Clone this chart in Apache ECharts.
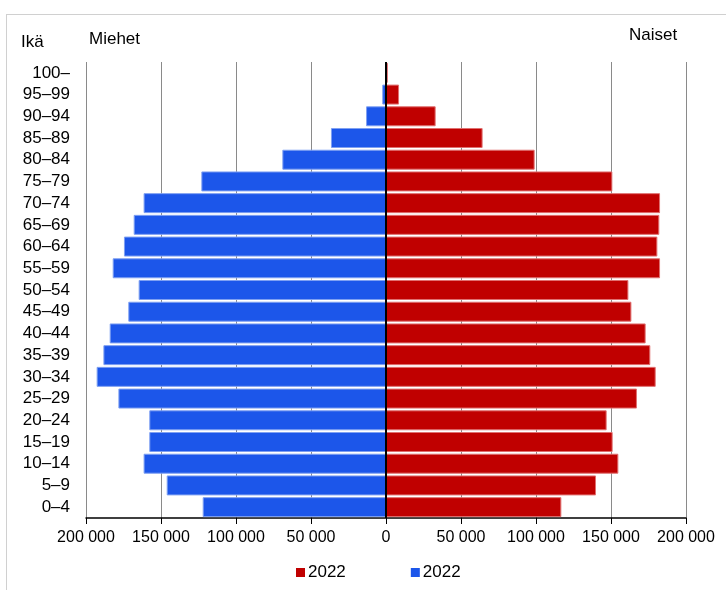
<!DOCTYPE html>
<html>
<head>
<meta charset="utf-8">
<script src="https://cdn.jsdelivr.net/npm/echarts@6/dist/echarts.min.js"></script>
<style>
html,body{margin:0;padding:0;background:#fff;}
#c{width:726px;height:590px;}
</style>
</head>
<body>
<div id="c"></div>
<script>
var ageGroups = ['0–4','5–9','10–14','15–19','20–24','25–29','30–34','35–39','40–44','45–49','50–54','55–59','60–64','65–69','70–74','75–79','80–84','85–89','90–94','95–99','100–'];
var men = [122200,146200,161600,157800,157800,178400,192900,188400,184200,171800,164900,182200,174700,168200,161600,123100,69100,36700,13300,2500,300];
var women = [116900,140000,154900,151100,147100,167300,179800,176200,173100,163600,161600,182700,180900,182200,182700,150900,99100,64400,33100,8700,1200];
var xTicks = [-200000,-150000,-100000,-50000,0,50000,100000,150000,200000];
var legendLabels = ['2022','2022'];

function fmt(v){
  var s = String(Math.abs(v));
  return s.replace(/\B(?=(\d{3})+(?!\d))/g, ' ');
}

var chart = echarts.init(document.getElementById('c'), null, {renderer:'canvas'});
var font = '"Liberation Sans", Arial, sans-serif';
chart.setOption({
  animation:false,
  textStyle:{fontFamily:font},
  grid:{left:86,right:40,top:62,bottom:72},
  legend:{
    top:559,left:291,
    itemWidth:9,itemHeight:9,itemGap:65,
    icon:'rect',
    itemStyle:{borderWidth:0},
    textStyle:{fontSize:17,color:'#000',fontFamily:font,padding:[0,0,0,-2]},
    data:[{name:'Naiset'},{name:'Miehet'}],
    formatter:function(n){return n==='Naiset'?legendLabels[0]:legendLabels[1];}
  },
  xAxis:{
    type:'value',
    min:xTicks[0],max:xTicks[xTicks.length-1],interval:50000,
    axisLine:{show:true,onZero:false,lineStyle:{color:'#000',width:1.5}},
    axisTick:{show:true,length:6,lineStyle:{color:'#000'}},
    axisLabel:{color:'#000',fontSize:16,margin:12,formatter:function(v){return fmt(v);},fontFamily:font},
    splitLine:{show:true,lineStyle:{color:'#8a8a8a',width:1}}
  },
  yAxis:{
    type:'category',
    data:ageGroups,
    axisLine:{show:false},
    axisTick:{show:false},
    axisLabel:{color:'#000',fontSize:17,margin:16,interval:0,fontFamily:font}
  },
  series:[
    {
      name:'Naiset',type:'bar',stack:'t',
      data:women,
      barCategoryGap:'8%',
      itemStyle:{color:'#c00000',borderColor:'#e07070',borderWidth:1},
      markLine:{
        silent:true,symbol:'none',label:{show:false},
        lineStyle:{color:'#000',width:2,type:'solid'},
        data:[{xAxis:0}]
      }
    },
    {
      name:'Miehet',type:'bar',stack:'t',
      data:men.map(function(v){return -v;}),
      barCategoryGap:'8%',
      itemStyle:{color:'#1c56ea',borderColor:'#7fa0f2',borderWidth:1}
    }
  ],
  graphic:[
    {type:'line',shape:{x1:6,y1:14.5,x2:726,y2:14.5},style:{stroke:'#d0d0d0',lineWidth:1}},
    {type:'line',shape:{x1:6.5,y1:14,x2:6.5,y2:590},style:{stroke:'#d0d0d0',lineWidth:1}},
    {type:'text',left:21,top:34,style:{text:'Ikä',font:'17px '+font,fill:'#000'}},
    {type:'text',left:89,top:30.5,style:{text:'Miehet',font:'17px '+font,fill:'#000'}},
    {type:'text',left:629,top:27,style:{text:'Naiset',font:'17px '+font,fill:'#000'}}
  ]
});
</script>
</body>
</html>
